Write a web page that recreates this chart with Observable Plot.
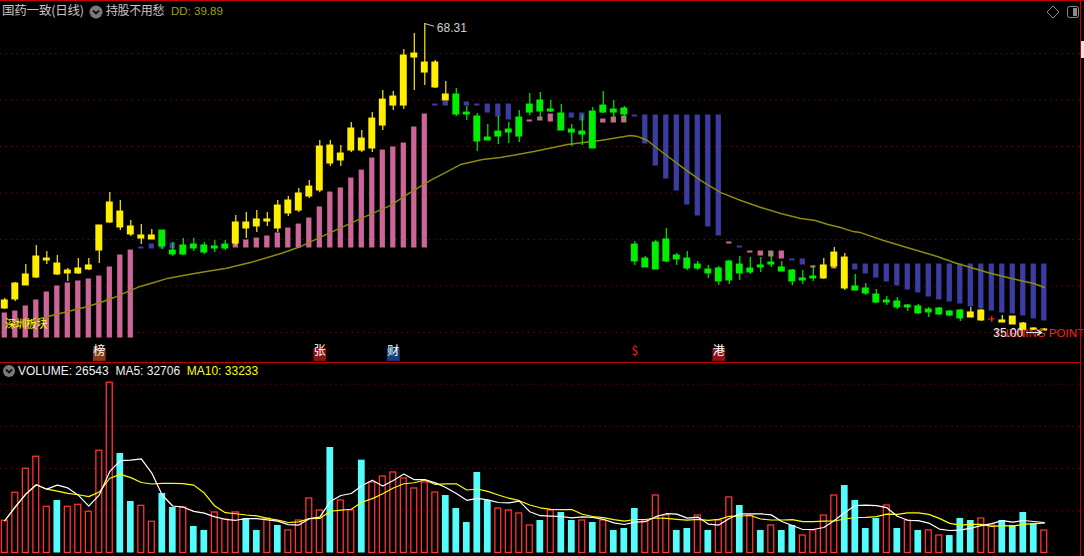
<!DOCTYPE html>
<html><head><meta charset="utf-8">
<script src="https://cdn.jsdelivr.net/npm/d3@7"></script>
<script src="https://cdn.jsdelivr.net/npm/@observablehq/plot@0.6"></script>
<style>
html,body{margin:0;padding:0;background:#000;}
#wrap{position:relative;width:1084px;height:556px;background:#000;overflow:hidden;font-family:"Liberation Sans",Arial,sans-serif;}
.abs{position:absolute;white-space:nowrap;line-height:1;}
.cjk{font-family:"Noto Sans CJK SC","Liberation Sans",sans-serif;}
#main,#vol{position:absolute;left:0;}
#main{top:0;} #vol{top:364px;}
</style></head><body>
<div id="wrap">
  <div id="main"></div>
  <div id="vol"></div>
  <!-- frame lines -->
  <div class="abs" style="left:0;top:0;width:1084px;height:1px;background:#c00000"></div>
  <div class="abs" style="left:1080px;top:0;width:1px;height:556px;background:#c00000"></div>
  <div class="abs" style="left:0;top:362px;width:1081px;height:1px;background:#c00000"></div>
  <div class="abs" style="left:1081px;top:41px;width:3px;height:17px;background:#e6e6e6"></div>
  <!-- header -->
  <div class="abs cjk" style="left:2px;top:4px;font-size:12.5px;color:#c8c8c8;letter-spacing:-0.2px">国药一致(日线)</div>
  <svg class="abs" style="left:89px;top:5px" width="14" height="14"><circle cx="7" cy="7" r="6.5" fill="#7a7a7a"/><path d="M4 5.5 L7 8.5 L10 5.5" stroke="#111" stroke-width="1.8" fill="none"/></svg>
  <div class="abs cjk" style="left:106px;top:4px;font-size:12px;color:#c8c8c8;letter-spacing:-0.4px">持股不用愁</div>
  <div class="abs" style="left:171px;top:6px;font-size:11.5px;color:#a0a010">DD: 39.89</div>
  <svg class="abs" style="left:1045px;top:4px" width="36" height="16"><path d="M8 2 L14 8 L8 14 L2 8 Z" stroke="#8a8a8a" fill="none"/><rect x="22.5" y="2.5" width="11" height="11" rx="2" stroke="#8a8a8a" fill="none"/><rect x="28" y="4" width="4" height="8" fill="#8a8a8a"/></svg>
  <div class="abs cjk" style="left:5px;top:318px;font-size:11px;color:#ffff00;letter-spacing:-0.5px">深圳板块</div>
  <!-- volume header -->
  <svg class="abs" style="left:2px;top:364px" width="14" height="14"><circle cx="7" cy="7" r="6" fill="#7a7a7a"/><path d="M4 5.5 L7 8.5 L10 5.5" stroke="#111" stroke-width="1.8" fill="none"/></svg>
  <div class="abs" style="left:18px;top:365px;font-size:12px;color:#f0f0f0">VOLUME: 26543&nbsp; MA5: 32706&nbsp; <span style="color:#ffff00">MA10: 33233</span></div>
</div>
<script>
// ---------- data ----------
const open = [37.39,38.37,39.89,40.75,42.60,41.08,41.19,41.19,41.62,43.68,
46.72,46.18,45.42,44.98,44.88,45.85,43.68,44.23,44.33,44.23,
44.12,44.33,44.44,46.07,46.29,46.83,46.07,47.70,48.02,49.54,
50.19,53.12,53.45,54.53,54.53,54.75,57.24,59.41,59.41,64.62,
62.99,61.37,59.96,60.61,58.65,58.22,55.94,56.59,56.81,58.11,
59.52,59.96,58.98,58.55,56.81,56.59,58.76,59.41,58.98,59.09,
44.33,42.81,44.55,44.88,43.14,42.81,42.16,41.62,41.73,42.49,
42.16,41.73,42.06,42.38,41.84,41.51,40.65,40.86,40.65,41.95,
39.56,39.78,39.56,38.91,38.26,38.15,37.72,37.61,37.28,37.39,
37.06,37.17,36.41,36.09,36.20,35.87,35.65,35.02,35.05,35.00];
const high = [38.47,40.21,42.16,44.23,43.57,43.14,41.73,42.81,42.81,46.40,
49.97,49.11,46.94,46.50,45.96,45.85,44.55,44.98,44.98,44.55,
44.77,44.77,47.48,47.81,48.02,47.81,49.11,49.54,50.41,51.27,
55.62,55.62,55.07,57.57,56.70,58.65,61.04,60.93,65.49,67.23,
68.31,64.30,62.02,61.26,59.31,58.55,57.35,58.22,57.57,58.87,
60.72,60.82,59.96,59.52,57.35,58.33,59.20,60.93,59.96,59.31,
44.66,43.03,44.77,46.07,43.36,43.57,42.49,42.06,41.95,42.60,
43.03,42.92,42.92,43.46,42.49,41.62,41.51,42.06,42.81,44.01,
43.36,41.08,40.10,39.45,38.69,38.58,37.82,37.82,37.50,37.50,
37.17,37.28,37.50,37.28,36.52,36.63,36.52,35.87,35.33,35.22];
const low = [37.28,38.15,39.89,40.65,42.16,40.97,40.32,41.08,41.51,42.27,
46.61,45.85,45.20,44.33,44.88,43.79,43.03,43.14,43.57,43.25,
43.46,43.68,44.23,44.98,45.63,46.29,45.63,47.37,47.81,49.32,
49.97,52.79,52.79,54.31,54.31,54.31,56.70,58.87,58.98,61.04,
61.58,61.26,59.96,58.22,57.79,54.42,55.62,55.18,55.29,55.40,
58.33,57.79,58.65,56.70,54.97,55.07,54.75,58.55,57.90,57.57,
42.06,41.84,41.62,42.38,42.06,41.51,41.51,40.65,39.89,40.00,
40.43,41.08,41.30,41.84,41.40,39.89,40.00,40.32,40.54,41.73,
39.34,39.34,38.80,37.93,37.72,37.28,37.06,36.74,36.41,36.63,
36.52,35.98,36.41,35.98,35.87,35.87,35.65,35.02,35.02,35.00];
const close = [38.26,40.10,41.08,43.03,42.81,42.27,41.51,41.73,42.06,46.40,
48.89,47.91,46.29,45.31,45.31,44.12,43.25,43.25,43.90,43.46,
43.90,43.90,46.72,46.72,47.05,47.05,48.56,49.11,49.87,50.62,
54.97,55.07,54.21,56.92,55.83,58.00,60.06,60.39,64.84,65.06,
64.08,64.08,60.61,58.44,58.44,55.51,55.62,56.05,56.48,56.05,
58.65,58.76,58.76,56.70,56.48,56.27,54.75,58.65,58.65,58.44,
42.49,41.84,41.62,42.49,42.71,41.73,41.73,41.19,40.32,40.43,
41.19,41.30,41.84,42.16,41.40,40.32,40.43,40.65,42.06,43.46,
42.92,39.34,39.02,38.04,38.04,37.50,37.50,36.85,36.96,36.74,
36.63,36.31,36.96,37.17,36.20,36.09,36.52,35.76,35.22,35.11];

const volume = [38200,71300,99800,114000,54700,62200,54700,57100,48800,121100,
201700,117900,61000,55900,37000,70500,53900,53900,31400,26700,
48000,39700,48000,40900,26700,40900,32600,26700,38500,64600,
50400,125000,62200,50400,110000,83500,90600,95400,88300,76400,
83500,71600,68100,52700,36100,95400,62200,52700,50400,46800,
32600,38500,50400,48000,38500,38500,36100,38500,26700,29000,
52700,38500,68100,44400,26700,29000,44400,26700,38500,65800,
56300,44400,26700,32600,26700,32600,20700,26700,44400,68100,
80000,62200,29000,40900,56300,29000,38500,26700,26700,20700,
20700,40900,38500,40900,32600,38500,32600,48000,35000,26543];
const volUp = [1,1,1,1,1,0,1,1,1,1,
1,0,0,1,1,0,0,1,0,0,
1,1,1,0,0,1,0,1,1,1,
1,0,1,1,0,1,1,1,1,1,
1,1,0,0,0,0,0,1,1,1,
1,0,1,0,0,1,0,1,0,0,
0,1,1,1,0,0,1,0,1,1,
0,1,0,1,0,0,1,1,1,1,
0,0,0,0,1,0,1,0,1,1,
0,0,0,1,1,0,0,0,0,1];

// 持股不用愁 indicator: bar kind (p = pink hold, b = blue wait), upper and lower value
const indKind = ["p","p","p","p","p","p","p","p","p","p","p","p","p",
"b","b","b","b",null,null,null,null,null,
"p","p","p","p","p","p","p","p","p","p","p","p","p","p","p","p","p","p","p",
"b","b",null,"b","b","b","b","b",null,
"p","p","p",null,"b","b",null,"p","p","p",
"b","b","b","b","b","b","b","b","b",
"p","b","p","p","p","p","b","b","p","p","p",null,
"b","b","b","b","b","b","b","b","b","b","b","b","b","b","b","b","b","b","b"];
const indTop = [36.85,37.06,37.61,38.26,39.13,39.78,40.10,40.32,40.54,40.86,41.84,43.14,43.68,
44.01,44.33,44.44,44.44,null,null,null,null,null,
44.44,44.77,44.98,45.20,45.53,46.07,46.50,47.15,48.35,49.97,50.41,51.49,52.35,53.66,54.53,54.86,55.29,57.03,58.44,
59.52,59.85,null,59.74,59.52,59.52,59.52,59.52,null,
57.79,58.11,58.44,null,58.55,58.55,null,57.90,58.11,58.22,
58.33,58.33,58.33,58.33,58.33,58.33,58.33,58.33,58.33,
44.55,44.12,43.57,43.57,43.57,43.57,42.71,42.71,41.95,41.95,41.95,null,
42.16,42.16,42.16,42.16,42.16,42.16,42.16,42.16,42.16,42.16,42.16,42.16,42.16,42.16,42.16,42.16,42.16,42.16,42.16];
const indBot = [34.24,34.24,34.24,34.24,34.24,34.24,34.24,34.24,34.24,34.24,34.24,34.24,34.24,
43.90,43.90,43.90,43.90,null,null,null,null,null,
44.01,44.01,44.01,44.01,44.01,44.01,44.01,44.01,44.01,44.01,44.01,44.01,44.01,44.01,44.01,44.01,44.01,44.01,44.01,
59.41,59.41,null,59.41,59.41,58.65,58.22,57.90,null,
57.68,57.79,57.68,null,58.11,57.79,null,57.57,57.57,57.57,
58.22,55.29,52.90,51.49,50.19,48.67,47.48,46.29,45.31,
44.44,44.01,43.46,43.14,43.03,42.81,42.60,42.16,41.84,41.84,41.73,null,
41.62,41.19,40.75,40.32,39.89,39.45,39.13,38.69,38.37,38.15,37.93,37.61,37.39,37.17,36.96,36.85,36.63,36.31,36.09];

// olive moving-average line (day index, price)
const lineIdx = [0,1.5,2.7,4.1,6,7.9,9.1,10.4,11.7,12.9,14.2,15.5,17,18.6,21,23.4,26.3,28.2,31,33.9,36.7,38.6,40.5,43.4,45.5,47.2,50.4,53.6,56.7,59.6,60.3,61.2,62.4,64.3,66.3,68.2,70.1,72,73.9,75.8,77.2,78.4,79.6,80.8,81.5,83.7,85.6,87.2,88.8,90.4,92,93.6,95.1,96.7,98,99];
const lineVal = [35.65,35.87,36.09,36.52,37.06,37.61,38.04,38.58,39.23,39.78,40.21,40.65,40.97,41.30,41.73,42.38,43.36,44.12,45.63,47.15,48.56,49.97,51.27,53.01,53.56,53.77,54.42,55.18,55.62,56.16,56.05,55.62,54.53,52.90,51.27,49.97,49.11,48.35,47.70,47.15,46.94,46.50,46.18,45.74,45.63,44.77,44.12,43.57,43.03,42.38,41.84,41.30,40.86,40.43,40.10,39.67];

const priceGrid = [65.06, 60.01, 54.97, 49.92, 44.87, 39.83, 34.79];
const volGrid = [50000, 100000, 150000, 200000];
const eventIdx = [9, 30, 37, 60, 68];
const eventText = ["榜", "张", "财", "$", "港"];
const eventBg = ["#8a3a14", "#8e1212", "#17407a", "none", "#8e1212"];

// ---------- build ----------
const YEL = "#ffee00", GRN = "#00ee00", RED = "#ff2a2a", PINK = "#cc6699", BLUE = "#3c3ca2", OLIVE = "#8c8c10";
const candles = open.map((o, i) => ({i, o, h: high[i], l: low[i], c: close[i]}));
const ccol = d => d.c > d.o ? YEL : d.c < d.o ? GRN : RED;
const ind = indKind.map((k, i) => ({i, k, a: indTop[i], b: indBot[i]})).filter(d => d.k);
const olive = lineIdx.map((x, j) => ({x, v: lineVal[j]}));
const xDomain = [-0.41, 102.83];
const hiI = d3.maxIndex(high), loI = d3.minIndex(low);
const events = eventIdx.map((i, j) => ({i, t: eventText[j], bg: eventBg[j]}));

const main = Plot.plot({
  width: 1084, height: 362, margin: 0,
  x: {domain: xDomain, axis: null},
  y: {domain: [31.53, 70.81], axis: null},
  style: {background: "transparent", overflow: "visible"},
  marks: [
    Plot.ruleY(priceGrid, {stroke: "#8a0000", strokeDasharray: "1.2,4.3"}),
    Plot.rect(ind, {x1: d => d.i - 0.25, x2: d => d.i + 0.25, y1: "b", y2: "a",
      fill: d => d.k === "p" ? PINK : BLUE, insetTop: -0.5, insetBottom: -0.5}),
    Plot.line(olive, {x: "x", y: "v", stroke: OLIVE, strokeWidth: 1.4}),
    Plot.ruleX(candles, {x: "i", y1: "l", y2: "h", stroke: ccol, strokeWidth: 1.2}),
    Plot.rect(candles, {x1: d => d.i - 0.33, x2: d => d.i + 0.33,
      y1: d => Math.min(d.o, d.c), y2: d => Math.max(d.o, d.c), fill: ccol, insetTop: -0.5, insetBottom: -0.5}),
    Plot.link([candles[hiI]], {x1: "i", y1: "h", x2: d => d.i + 0.9, y2: d => d.h - 0.3, stroke: "#c8c8c8", strokeWidth: 1}),
    Plot.text([candles[hiI]], {x: "i", y: "h", text: d => d.h.toFixed(2), dx: 12, dy: 5, textAnchor: "start",
      fill: "#d0d0d0", fontSize: 12, fontFamily: "Liberation Sans"}),
    Plot.text([candles[loI]], {x: "i", y: "l", text: () => "TURNING POINT", dx: -51, dy: 3, textAnchor: "start",
      fill: "#ff2020", fontSize: 11.5, fontFamily: "Liberation Sans", letterSpacing: "-0.5px"}),
    Plot.arrow([candles[loI]], {x1: d => d.i - 1.7, x2: d => d.i - 0.25, y1: "l", y2: "l", dy: 2,
      stroke: "#e8e8e8", strokeWidth: 1.2, headLength: 6}),
    Plot.text([candles[loI]], {x: "i", y: "l", text: d => d.l.toFixed(2), dx: -21, dy: 3, textAnchor: "end",
      fill: "#e8e8e8", fontSize: 12, fontFamily: "Liberation Sans"}),
    Plot.dot(events.filter(d => d.bg !== "none"), {x: "i", frameAnchor: "bottom", dy: -8, symbol: "square", r: 7.2, fill: "bg"}),
    Plot.text(events, {x: "i", frameAnchor: "bottom", dy: -8, text: "t", fill: d => d.bg === "none" ? "#ff2020" : "#ffffff",
      fontSize: 12, fontWeight: d => d.bg === "none" ? "bold" : "normal", fontFamily: "Noto Sans CJK SC"})
  ]
});
document.getElementById("main").appendChild(main);

// volume panel
const vols = volume.map((v, i) => ({i, v, up: volUp[i]}));
const ma = n => volume.map((_, i) => ({i, v: d3.mean(volume.slice(Math.max(0, i - n + 1), i + 1))}));
const vol = Plot.plot({
  width: 1084, height: 192, marginTop: 0, marginLeft: 0, marginRight: 0, marginBottom: 3.5,
  x: {domain: xDomain, axis: null},
  y: {domain: [0, 223300], axis: null},
  style: {background: "transparent", overflow: "visible"},
  marks: [
    Plot.ruleY(volGrid, {stroke: "#8a0000", strokeDasharray: "1.2,4.3"}),
    Plot.rect(vols.filter(d => !d.up), {x1: d => d.i - 0.32, x2: d => d.i + 0.32, y1: 0, y2: "v", fill: "#55fcfc"}),
    Plot.rect(vols.filter(d => d.up), {x1: d => d.i - 0.28, x2: d => d.i + 0.28, y1: 0, y2: "v", fill: "none", stroke: "#ff3232", strokeWidth: 1.3}),
    Plot.line(ma(10), {x: "i", y: "v", stroke: "#ffff00", strokeWidth: 1.2}),
    Plot.line(ma(5), {x: "i", y: "v", stroke: "#ffffff", strokeWidth: 1.2})
  ]
});
document.getElementById("vol").appendChild(vol);
</script>
</body></html>
